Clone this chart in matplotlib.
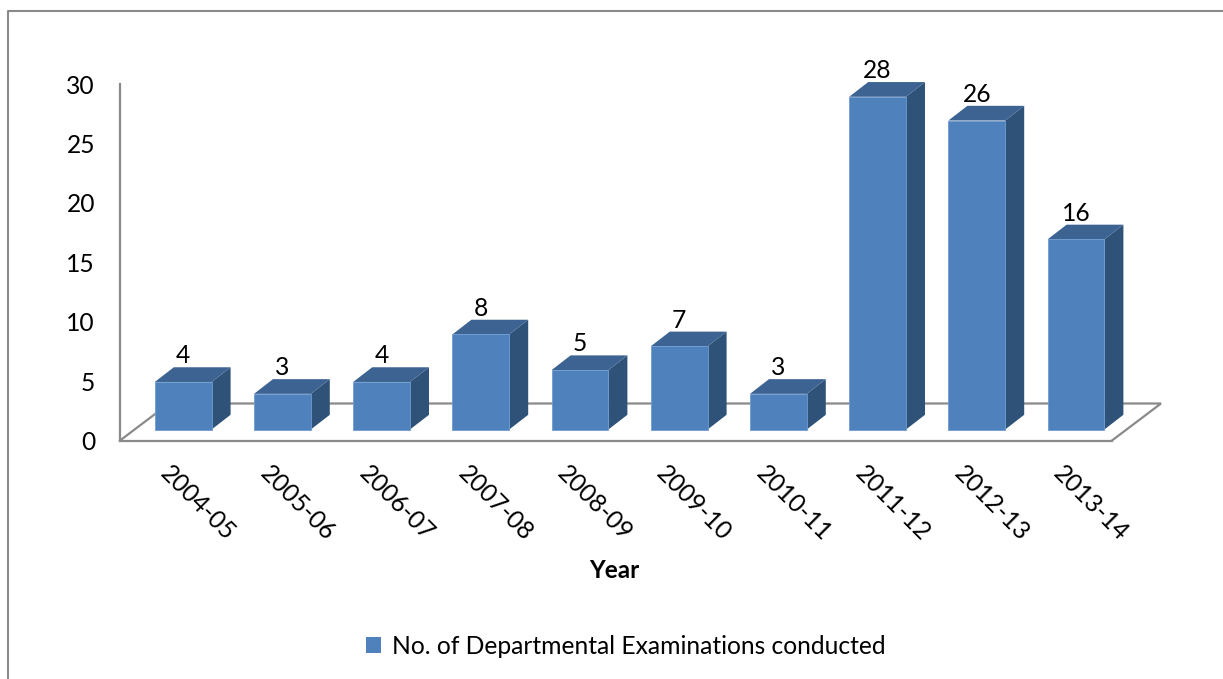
import matplotlib
matplotlib.use("Agg")
import matplotlib.pyplot as plt
from matplotlib.lines import Line2D
from matplotlib.patches import Polygon, Patch
from matplotlib.transforms import ScaledTranslation

years = ["2004-05", "2005-06", "2006-07", "2007-08", "2008-09",
         "2009-10", "2010-11", "2011-12", "2012-13", "2013-14"]
exams = [4, 3, 4, 8, 5, 7, 3, 28, 26, 16]
y_ticks = [0, 5, 10, 15, 20, 25, 30]
series_name = "No. of Departmental Examinations conducted"
x_title = "Year"

W, H = 1223, 679
plt.rcParams["font.family"] = ["Lato", "DejaVu Sans"]
FS = 17.7
GRAY = "#8a8a8a"
FRONT, TOP, SIDE = "#4f81bd", "#3c6391", "#2f5378"

fig = plt.figure(figsize=(W / 100, H / 100), dpi=100, facecolor="white")
ax = fig.add_axes([120 / W, 1 - 440.5 / H, 992 / W, 356.5 / H])
ax.set_xlim(-0.5, 9.5)
ax.set_ylim(0, 30)
ax.set_facecolor("none")

px_x = 1 / 99.2      # one pixel in category units
px_y = 30 / 356.5    # one pixel in value units

# outer chart frame
fig.add_artist(Line2D([8 / W, 8 / W, 1], [0, 1 - 10.5 / H, 1 - 10.5 / H], color=GRAY, lw=1.5))

# floor of the 3-D plot
fx, fy = 49 * px_x, 37 * px_y
ax.plot([-0.5, -0.5 + fx, 9.5 + fx, 9.5], [0, fy, fy, 0], color=GRAY, lw=1.6,
        clip_on=False, zorder=1, solid_joinstyle="miter")

# bars: front faces, tops and sides
ox, oy = 13.6 * px_x, 11 * px_y
dx, dy = 19 * px_x, 14.7 * px_y
bw = 56.8 * px_x
xs = list(range(len(years)))
for x, v in zip(xs, exams):
    l, r = x + ox - bw / 2, x + ox + bw / 2
    b, t = oy, oy + v
    ax.add_patch(Polygon([(r, b), (r + dx, b + dy), (r + dx, t + dy), (r, t)],
                         fc=SIDE, ec="none", clip_on=False, zorder=3))
    ax.add_patch(Polygon([(l, t), (l + dx, t + dy), (r + dx, t + dy), (r, t)],
                         fc=TOP, ec="none", clip_on=False, zorder=3))
    ax.annotate(str(v), (x + ox, t + dy), xytext=(0, 11.5 * 0.72),
                textcoords="offset points", ha="center", va="center",
                fontsize=FS, color="black", annotation_clip=False, zorder=5)
ax.bar([x + ox for x in xs], exams, bw, bottom=oy, color=FRONT, edgecolor="#6e9bd2",
       linewidth=0.6, clip_on=False, zorder=4)

# axes
for s in ("top", "right"):
    ax.spines[s].set_visible(False)
for s in ("left", "bottom"):
    ax.spines[s].set_color(GRAY)
    ax.spines[s].set_linewidth(1.6)
ax.set_yticks(y_ticks)
ax.tick_params(axis="y", length=0, pad=18.0, labelsize=FS)
ax.set_xticks(xs)
ax.set_xticklabels(years, rotation=-45, ha="left", va="center", rotation_mode="anchor", fontsize=FS)
ax.tick_params(axis="x", length=0, pad=21)
fig.canvas.draw()
for lab in ax.get_xticklabels():
    lab.set_transform(lab.get_transform() + ScaledTranslation(-5 / 100, 0, fig.dpi_scale_trans))
for lab in ax.get_yticklabels():
    lab.set_transform(lab.get_transform() + ScaledTranslation(0, 0, fig.dpi_scale_trans))
ax.set_xlabel(x_title, fontsize=17.5, fontweight="bold")
ax.xaxis.set_label_coords((614 - 120) / 992, (440.5 - 570.5) / 356.5)
ax.xaxis.label.set_va("center")

# legend
fig.legend(handles=[Patch(fc=FRONT, ec="none", label=series_name)], loc="center",
           bbox_to_anchor=(626 / W, 1 - 646 / H), frameon=False, fontsize=FS,
           handlelength=0.6, handleheight=0.6, handletextpad=0.45, borderpad=0)

fig.savefig("out.png", dpi=100, facecolor="white")
